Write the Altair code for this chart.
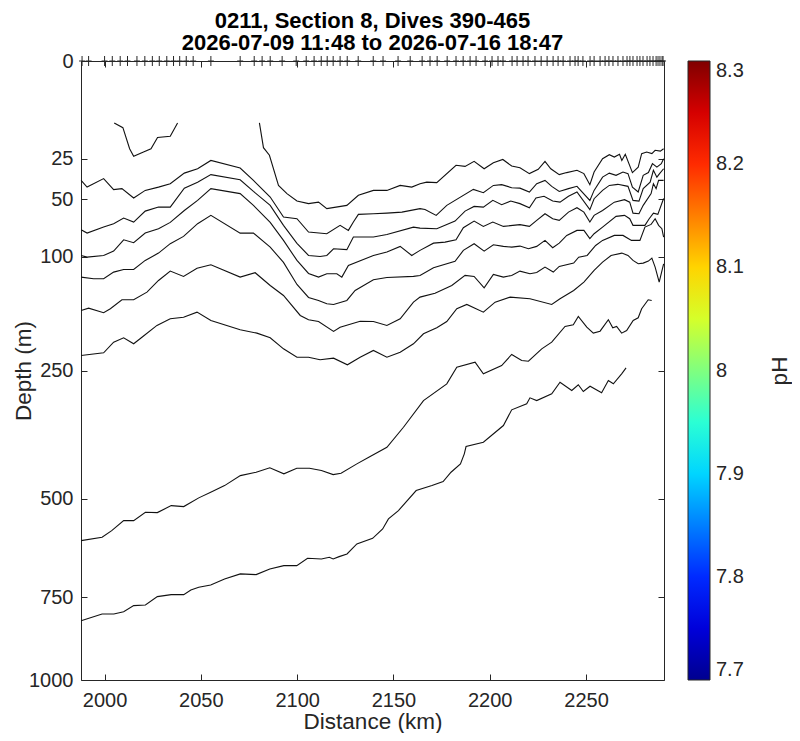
import altair as alt
import pandas as pd

TITLE = ["0211, Section 8, Dives 390-465", "2026-07-09 11:48 to 2026-07-16 18:47"]
X_TICKS = [2000, 2050, 2100, 2150, 2200, 2250]
Y_TICKS = [0, 25, 50, 100, 250, 500, 750, 1000]
PH_TICKS = [7.7, 7.8, 7.9, 8.0, 8.1, 8.2, 8.3]
JET_STOPS = [7.7, 7.775, 7.925, 8.075, 8.225, 8.3]
JET_COLORS = ["#00008f", "#0000ff", "#00ffff", "#ffff00", "#ff0000", "#800000"]

# dive positions (km) marked along the surface
DIVE_KM = [1988.3, 1991.7, 2000.0, 2004.0, 2008.1, 2011.9, 2016.8, 2020.9, 2024.8, 2028.4,
           2032.3, 2035.8, 2039.0, 2042.4, 2046.0, 2055.2, 2070.4, 2077.7, 2081.8, 2086.0,
           2092.2, 2099.5, 2104.7, 2108.8, 2112.5, 2115.6, 2118.7, 2122.3, 2126.0, 2131.7,
           2139.5, 2144.6, 2152.4, 2158.7, 2164.9, 2169.0, 2172.7, 2177.9, 2182.5, 2186.2,
           2189.8, 2192.9, 2197.6, 2201.2, 2204.3, 2206.9, 2211.6, 2214.2, 2217.3, 2219.9,
           2223.5, 2226.7, 2229.8, 2232.9, 2235.5, 2238.1, 2241.7, 2244.3, 2245.9, 2248.4,
           2252.1, 2254.2, 2257.3, 2259.9, 2261.9, 2264.0, 2266.6, 2269.2, 2271.3, 2272.8,
           2274.4, 2276.5, 2278.0, 2279.6, 2281.7, 2283.2, 2284.8, 2286.4, 2287.4, 2288.4,
           2289.5, 2290.0]

# contour lines: distance (km) and depth (m)
A_KM = [2005.0, 2009.5, 2013.0, 2015.1, 2020.2, 2024.1, 2027.5, 2034.1, 2037.9]
A_M = [10.0, 11.6, 20.1, 23.7, 21.6, 20.1, 15.3, 14.8, 10.0]

B_KM = [2080.4, 2082.5, 2085.6, 2090.3, 2094.7, 2099.9, 2105.9, 2111.1, 2115.4, 2125.8,
        2131.8, 2139.6, 2146.6, 2153.5, 2159.5, 2163.8, 2167.3, 2172.5, 2182.5, 2187.2,
        2191.9, 2197.1, 2201.9, 2206.8, 2211.4, 2215.7, 2220.6, 2225.2, 2228.7, 2231.7,
        2236.1, 2240.0, 2245.3, 2248.9, 2252.0, 2254.2, 2258.6, 2262.1, 2264.7, 2267.4,
        2268.6, 2270.4, 2274.1, 2277.1, 2278.9, 2281.5, 2284.2, 2285.9, 2288.6, 2290.3]
B_M = [10.0, 19.6, 23.2, 40.4, 45.9, 51.2, 53.1, 52.0, 56.9, 54.4,
       47.1, 43.7, 43.7, 40.4, 41.5, 39.3, 38.3, 38.6, 28.4, 29.0,
       26.3, 30.3, 27.0, 25.3, 28.8, 29.7, 33.1, 30.6, 26.3, 30.3,
       33.7, 32.5, 31.2, 33.1, 39.9, 32.2, 24.9, 22.9, 24.1, 22.7,
       25.8, 22.7, 32.5, 29.4, 22.4, 21.6, 22.4, 20.8, 21.2, 20.1]

C1_KM = [1987.8, 1990.9, 1999.5, 2004.7, 2009.0, 2015.1, 2021.1, 2028.0, 2034.1, 2041.4,
         2048.3, 2055.2, 2070.4, 2077.3, 2086.0, 2092.9, 2099.9, 2105.9, 2115.4, 2122.3,
         2126.6, 2129.2, 2131.8, 2139.6, 2146.6, 2154.4, 2163.8, 2166.4, 2172.2, 2177.7,
         2191.5, 2196.7, 2201.9, 2206.2, 2211.4, 2215.7, 2220.6, 2224.4, 2228.7, 2232.2,
         2236.1, 2240.9, 2245.3, 2252.0, 2254.2, 2258.6, 2262.1, 2265.6, 2269.2, 2271.8,
         2274.1, 2277.1, 2279.7, 2282.4, 2284.5, 2286.8, 2289.1, 2290.3]
C1_M = [37.2, 41.5, 36.1, 43.2, 42.5, 49.0, 43.7, 41.5, 39.3, 32.8,
        30.3, 25.8, 29.9, 37.2, 48.3, 63.6, 64.9, 76.4, 77.9, 70.5,
        74.9, 67.7, 61.4, 60.9, 60.4, 59.6, 56.9, 57.5, 62.2, 54.4,
        43.0, 45.3, 40.4, 39.9, 41.9, 42.2, 44.8, 39.3, 37.2, 41.0,
        44.4, 42.5, 41.0, 50.7, 43.7, 35.2, 32.8, 34.1, 32.2, 33.1,
        41.5, 44.8, 34.1, 32.5, 27.5, 29.4, 27.5, 24.9]

C2_KM = [1987.8, 1990.9, 1999.5, 2004.7, 2009.9, 2015.1, 2021.1, 2028.0, 2034.1, 2041.4,
         2048.3, 2055.2, 2070.4, 2077.3, 2086.0, 2092.9, 2099.9, 2105.9, 2111.9, 2115.4,
         2118.9, 2125.8, 2129.2, 2139.6, 2146.6, 2160.4, 2163.8, 2172.5, 2182.0, 2187.2,
         2191.9, 2196.7, 2201.6, 2206.2, 2210.9, 2215.7, 2220.6, 2224.0, 2228.2, 2232.7,
         2236.5, 2240.9, 2245.3, 2252.0, 2254.2, 2258.6, 2262.1, 2266.5, 2271.8, 2274.4,
         2277.5, 2279.7, 2283.3, 2285.0, 2286.8, 2288.2, 2290.3]
C2_M = [74.3, 77.3, 72.0, 69.1, 64.4, 67.7, 58.8, 55.7, 55.7, 42.2,
        38.3, 33.7, 36.8, 44.4, 54.4, 70.5, 86.8, 98.7, 99.7, 98.7,
        92.0, 92.9, 80.9, 80.9, 78.5, 72.0, 72.9, 73.4, 66.9, 58.8,
        55.2, 55.7, 50.7, 53.9, 51.2, 53.1, 56.2, 49.0, 47.8, 51.2,
        52.0, 47.8, 44.8, 57.7, 49.5, 43.7, 40.4, 39.7, 41.0, 50.7,
        51.2, 42.5, 38.3, 31.2, 35.2, 33.1, 30.3]

C3_KM = [1987.8, 1990.9, 1999.5, 2004.7, 2009.9, 2015.1, 2021.1, 2028.0, 2034.1, 2041.4,
         2048.3, 2055.2, 2070.4, 2077.3, 2086.0, 2092.9, 2099.9, 2105.9, 2111.1, 2115.4,
         2120.6, 2123.2, 2126.6, 2139.6, 2146.6, 2153.5, 2159.5, 2163.8, 2170.8, 2176.8,
         2182.5, 2186.3, 2191.9, 2196.7, 2201.6, 2207.1, 2215.7, 2220.6, 2224.4, 2228.7,
         2232.7, 2236.1, 2240.9, 2245.3, 2248.9, 2252.0, 2254.2, 2258.6, 2264.7, 2270.0,
         2272.7, 2274.4, 2277.5, 2279.7, 2283.8, 2285.0, 2286.4, 2287.7, 2290.3]
C3_M = [98.7, 100.4, 98.7, 94.3, 83.4, 86.2, 77.3, 73.4, 68.0, 58.3,
        50.7, 42.5, 45.9, 54.4, 68.0, 84.0, 103.8, 117.8, 121.9, 118.1,
        118.1, 121.9, 109.1, 98.7, 95.3, 89.7, 98.7, 93.6, 86.6, 85.6,
        83.4, 72.5, 66.9, 71.4, 67.7, 71.4, 69.9, 71.4, 66.3, 60.9,
        64.9, 66.3, 59.6, 56.2, 59.6, 67.7, 62.2, 58.3, 52.0, 50.2,
        52.0, 60.4, 60.9, 54.4, 45.9, 39.3, 42.5, 37.2, 37.2]

C4_KM = [1987.8, 1994.3, 1999.5, 2004.7, 2009.9, 2015.1, 2021.1, 2028.0, 2034.1, 2041.0,
         2048.3, 2055.2, 2070.4, 2077.3, 2086.0, 2092.9, 2099.9, 2105.9, 2111.1, 2115.4,
         2118.9, 2125.8, 2130.1, 2139.6, 2146.6, 2160.4, 2163.8, 2170.8, 2182.0, 2186.3,
         2191.9, 2197.1, 2201.9, 2207.1, 2211.4, 2215.7, 2220.1, 2224.4, 2228.7, 2232.7,
         2236.1, 2240.0, 2245.3, 2248.9, 2252.0, 2254.2, 2258.6, 2265.6, 2270.0, 2272.7,
         2274.4, 2280.6, 2282.8, 2285.0, 2287.3, 2290.3]
C4_M = [121.9, 123.7, 123.7, 116.3, 113.4, 113.4, 103.8, 96.3, 87.1, 80.3,
        69.1, 62.2, 77.3, 77.3, 90.4, 105.9, 130.3, 145.9, 149.6, 153.8,
        154.7, 149.6, 137.4, 124.9, 122.3, 121.1, 120.0, 111.5, 104.8, 93.6,
        87.1, 94.3, 88.1, 89.7, 90.4, 89.4, 92.0, 89.7, 84.0, 91.0,
        86.6, 79.4, 74.9, 74.9, 82.4, 77.9, 72.0, 63.0, 62.2, 64.9,
        70.5, 70.5, 64.9, 60.4, 61.4, 49.3]

C5_KM = [1987.8, 1991.7, 1999.5, 2003.0, 2009.0, 2015.1, 2022.0, 2028.0, 2034.1, 2041.0,
         2048.0, 2055.2, 2070.4, 2078.2, 2086.0, 2092.9, 2101.6, 2105.9, 2111.1, 2118.9,
         2122.3, 2132.7, 2139.6, 2146.6, 2153.5, 2160.4, 2163.8, 2171.6, 2180.3, 2187.2,
         2191.9, 2197.1, 2201.9, 2207.1, 2211.4, 2215.7, 2220.9, 2224.4, 2228.7, 2233.0,
         2236.1, 2243.6, 2246.2, 2250.6, 2255.0, 2258.6, 2264.7, 2269.2, 2273.6, 2278.0,
         2280.6, 2283.8, 2285.9, 2287.7, 2289.4, 2290.3]
C5_M = [162.4, 159.4, 165.4, 160.2, 148.8, 148.8, 139.4, 125.7, 115.2, 121.1,
        112.0, 108.3, 121.9, 117.0, 131.5, 143.5, 169.0, 174.8, 177.1, 190.9,
        184.9, 176.7, 177.1, 182.5, 173.4, 151.8, 145.5, 140.7, 131.5, 120.0,
        121.1, 134.2, 118.9, 121.9, 120.0, 115.2, 118.1, 116.7, 110.9, 116.3,
        110.1, 106.6, 100.4, 98.7, 88.8, 84.0, 79.4, 79.4, 84.0, 84.0,
        72.0, 69.7, 64.9, 70.5, 73.4, 80.9]

C6_KM = [1987.8, 1999.5, 2004.7, 2009.9, 2015.1, 2019.4, 2027.2, 2034.1, 2041.0, 2048.0,
         2055.2, 2070.4, 2079.1, 2086.0, 2092.9, 2099.9, 2105.9, 2111.9, 2118.9, 2126.1,
         2132.7, 2139.6, 2146.6, 2153.5, 2160.4, 2165.6, 2172.5, 2177.7, 2182.9, 2188.1,
         2196.7, 2202.8, 2210.6, 2220.9, 2232.2, 2236.5, 2243.6, 2248.9, 2254.2, 2258.6,
         2263.0, 2268.6, 2271.8, 2274.4, 2277.1, 2279.7, 2282.4, 2284.2, 2285.9, 2288.0,
         2290.3]
C6_M = [226.3, 222.2, 206.3, 199.9, 208.7, 199.1, 182.5, 173.4, 171.3, 164.6,
        175.7, 188.5, 193.3, 199.9, 216.2, 229.0, 229.0, 233.0, 230.5, 240.9,
        229.0, 218.7, 229.0, 221.3, 208.7, 194.2, 185.7, 177.1, 160.2, 154.7,
        164.6, 151.8, 145.5, 147.5, 154.7, 147.5, 137.4, 127.6, 114.5, 105.6,
        98.7, 96.3, 98.7, 103.8, 107.3, 106.6, 104.5, 101.4, 110.9, 127.6,
        107.3]

C7_KM = [1987.8, 1998.7, 2003.7, 2009.9, 2015.1, 2021.2, 2027.4, 2034.6, 2041.1, 2048.9,
         2055.1, 2062.3, 2070.5, 2078.7, 2085.8, 2093.1, 2099.8, 2106.4, 2112.6, 2118.7,
         2122.8, 2131.0, 2137.2, 2146.6, 2155.2, 2165.6, 2177.7, 2182.9, 2192.4, 2196.7,
         2206.2, 2211.4, 2216.6, 2220.1, 2227.0, 2232.2, 2239.1, 2243.4, 2246.0, 2250.4,
         2253.8, 2257.3, 2261.6, 2263.9, 2265.9, 2268.5, 2271.1, 2274.5, 2277.1, 2278.9,
         2282.3, 2284.1]
C7_M = [600.3, 592.1, 575.6, 551.3, 551.3, 531.5, 532.2, 515.9, 518.2, 498.1,
        485.4, 470.5, 448.6, 441.4, 432.0, 444.9, 432.9, 432.9, 437.8, 446.4,
        443.6, 423.6, 409.8, 389.4, 350.1, 300.9, 272.0, 244.7, 236.8, 255.4,
        242.0, 224.8, 234.1, 235.2, 216.2, 206.3, 183.9, 181.6, 170.3, 184.9,
        193.3, 190.5, 174.8, 185.7, 183.9, 193.3, 189.5, 175.7, 172.1, 160.2,
        148.8, 149.6]

C8_KM = [1987.8, 1998.7, 2004.8, 2009.9, 2015.1, 2021.2, 2027.4, 2034.6, 2041.1, 2044.8,
         2048.9, 2055.1, 2062.3, 2070.5, 2078.7, 2085.8, 2093.1, 2099.8, 2105.4, 2112.6,
         2116.7, 2118.7, 2121.8, 2125.9, 2131.0, 2139.2, 2144.4, 2147.4, 2152.6, 2161.8,
         2170.0, 2175.8, 2179.9, 2184.8, 2186.8, 2187.7, 2196.7, 2207.1, 2211.4, 2219.2,
         2220.9, 2224.4, 2232.2, 2236.5, 2242.6, 2246.0, 2248.6, 2252.1, 2258.1, 2261.6,
         2264.2, 2268.5, 2270.8]
C8_M = [817.5, 798.0, 798.0, 791.4, 774.2, 772.2, 748.8, 743.2, 743.2, 730.2,
        723.0, 716.5, 700.1, 686.6, 688.5, 673.3, 664.6, 664.6, 645.5, 647.1,
        642.9, 647.1, 641.1, 634.1, 608.6, 594.6, 571.4, 547.2, 527.5, 481.6,
        470.5, 461.6, 441.4, 423.6, 402.8, 388.0, 379.4, 346.8, 317.6, 306.7,
        296.1, 300.9, 289.1, 269.3, 283.4, 273.6, 285.1, 276.0, 287.3, 266.4,
        272.0, 255.4, 245.7]

CONTOURS = {"A": (A_KM, A_M), "B": (B_KM, B_M), "C1": (C1_KM, C1_M), "C2": (C2_KM, C2_M),
            "C3": (C3_KM, C3_M), "C4": (C4_KM, C4_M), "C5": (C5_KM, C5_M),
            "C6": (C6_KM, C6_M), "C7": (C7_KM, C7_M), "C8": (C8_KM, C8_M)}

rows = []
for name, (kms, ms) in CONTOURS.items():
    for i, (k, m) in enumerate(zip(kms, ms)):
        rows.append({"line": name, "i": i, "km": k, "depth": m})
contour_df = pd.DataFrame(rows)
dive_df = pd.DataFrame({"km": DIVE_KM, "depth": [0] * len(DIVE_KM)})
ph_df = pd.DataFrame({"pH": PH_TICKS})

FONT = "Liberation Sans"
INK = "#262626"
W, H = 583, 619

x_scale = alt.Scale(domain=[1987.75, 2290.5], nice=False, zero=False)
y_scale = alt.Scale(type="sqrt", domain=[0, 1000], reverse=True, nice=False, zero=False)

lines = alt.Chart(contour_df).mark_line(color="#111111", strokeWidth=1.1).encode(
    x=alt.X("km:Q", scale=x_scale,
            axis=alt.Axis(values=X_TICKS, format="d", title="Distance (km)", offset=-6,
                          tickSize=6, domain=False, grid=False, labelPadding=10,
                          titlePadding=0, labelFlush=False)),
    y=alt.Y("depth:Q", scale=y_scale,
            axis=alt.Axis(values=Y_TICKS, format="d", title="Depth (m)", offset=-6,
                          tickSize=6, domain=False, grid=False, labelPadding=8,
                          titleX=-52, titleAngle=270, titleBaseline="bottom",
                          labelFlush=False)),
    detail="line:N",
    order="i:Q",
)

# right axis carries inside ticks and the colour-bar caption "pH"
dives = alt.Chart(dive_df).mark_point(
    shape="M-0.6,0H0.6M0,-1V1", size=100, filled=False, stroke=INK, strokeWidth=1, opacity=1
).encode(
    x=alt.X("km:Q", scale=x_scale,
            axis=alt.Axis(orient="top", values=X_TICKS, labels=False, title=None, offset=-6,
                          tickSize=6, domain=False, grid=False)),
    y=alt.Y("depth:Q", scale=y_scale,
            axis=alt.Axis(orient="right", values=Y_TICKS, labels=False, title="pH",
                          titleAngle=270, titleX=121, titleY=H / 2, titleAlign="center",
                          titleBaseline="middle", offset=-6, tickSize=6, domain=False,
                          grid=False)),
)

cbar = alt.Chart(ph_df).mark_point(size=0, filled=True, opacity=1).encode(
    color=alt.Color("pH:Q",
                    scale=alt.Scale(domain=JET_STOPS, range=JET_COLORS, interpolate="rgb"),
                    legend=alt.Legend(orient="none", legendX=607, legendY=0, direction="vertical",
                                      gradientLength=H, gradientThickness=22, values=PH_TICKS,
                                      format=".1~f", labelFontSize=20, labelFont=FONT,
                                      labelColor=INK, labelOffset=6, labelOverlap=False,
                                      labelBaseline="middle", gradientOpacity=1,
                                      title=None, gradientStrokeColor=INK,
                                      gradientStrokeWidth=1, padding=0)),
)

chart = alt.layer(lines, dives, cbar).resolve_scale(
    x="independent", y="independent"
).properties(
    width=W, height=H,
    padding={"left": 73, "top": 53, "right": 128, "bottom": 53},
    autosize=alt.AutoSizeParams(type="none"),
    title=alt.Title(TITLE, fontSize=22, font=FONT, fontWeight="bold", color="#000000",
                    anchor="middle", frame="group", offset=4, dy=8, lineHeight=22.5),
).configure_view(
    stroke=INK, strokeWidth=1
).configure_axis(
    labelFont=FONT, titleFont=FONT, labelFontSize=20, titleFontSize=22.5,
    labelColor=INK, titleColor=INK, tickColor=INK, titleFontWeight="normal"
)

chart.save("out.html", embed_options={"renderer": "svg", "actions": False})
